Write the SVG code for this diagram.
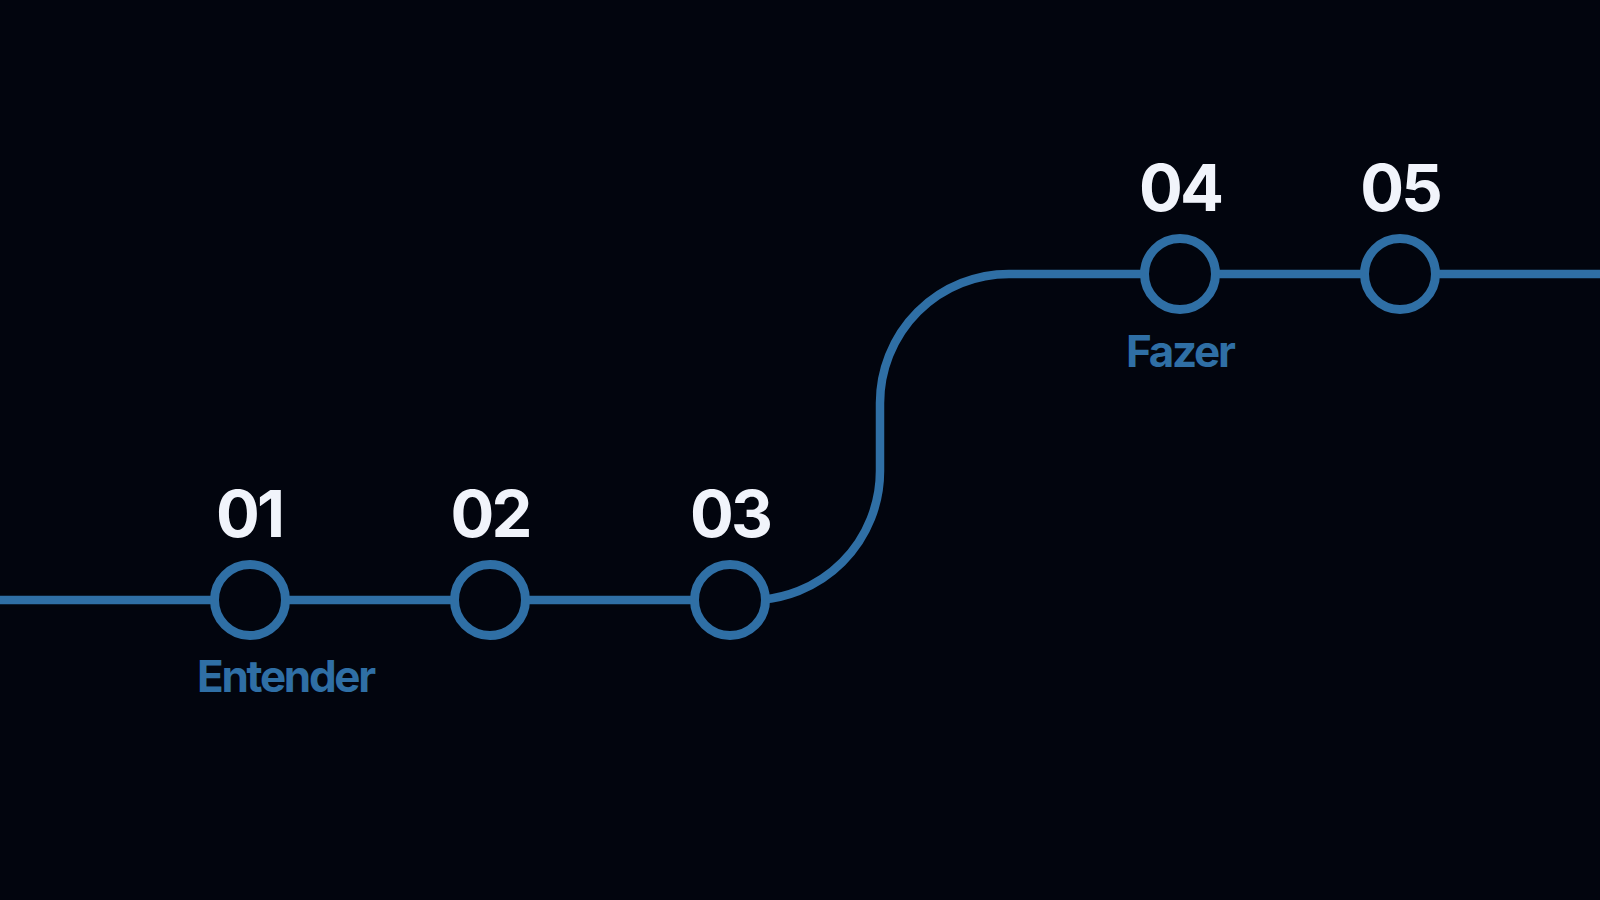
<svg xmlns="http://www.w3.org/2000/svg" width="1600" height="900" viewBox="0 0 1600 900">
  <style>
    .bg { fill: #02050e; }
    .track { fill: none; stroke: #2f6fa5; stroke-width: 8.5; }
    .stop { fill: #02050e; stroke: #2f6fa5; stroke-width: 9; }
    .num { font-family: Inter, "Liberation Sans", sans-serif; font-weight: 700; font-size: 65px; fill: #f1f4fb; text-anchor: middle; letter-spacing: -3px; }
    .lbl { font-family: Inter, "Liberation Sans", sans-serif; font-weight: 700; font-size: 44px; fill: #2f6fa5; letter-spacing: -2.3px; }
  </style>
  <rect class="bg" x="0" y="0" width="1600" height="900"/>
  <g id="connectors">
    <path class="track" d="M 0 600 H 751 A 129 129 0 0 0 880 471 V 403 A 129 129 0 0 1 1009 274 H 1600"/>
  </g>
  <g id="node-01">
    <circle class="stop" cx="250" cy="600" r="35.5"/>
    <text class="num" x="249" y="537">01</text>
    <text class="lbl" x="197" y="692">Entender</text>
  </g>
  <g id="node-02">
    <circle class="stop" cx="490" cy="600" r="35.5"/>
    <text class="num" x="490" y="537">02</text>
  </g>
  <g id="node-03">
    <circle class="stop" cx="730" cy="600" r="35.5"/>
    <text class="num" x="730" y="537">03</text>
  </g>
  <g id="node-04">
    <circle class="stop" cx="1180" cy="274" r="35.5"/>
    <text class="num" x="1180" y="211">04</text>
    <text class="lbl" x="1126" y="367">Fazer</text>
  </g>
  <g id="node-05">
    <circle class="stop" cx="1400" cy="274" r="35.5"/>
    <text class="num" x="1400" y="211">05</text>
  </g>
</svg>
